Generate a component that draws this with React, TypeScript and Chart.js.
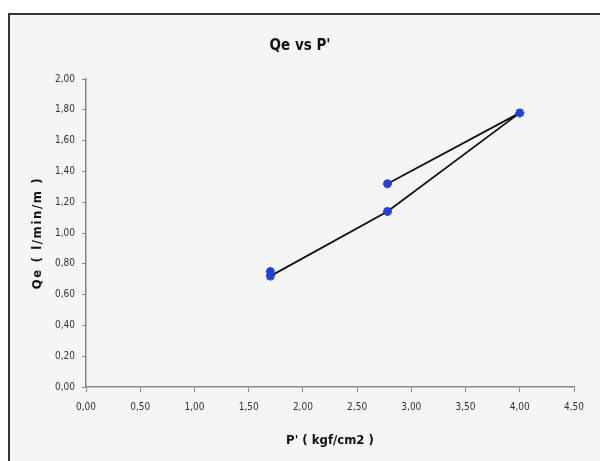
import React, { useEffect, useRef } from "react";
import { Chart, registerables } from "chart.js";

Chart.register(...registerables);

const pressureP = [1.7, 1.7, 2.78, 4.0, 2.78];
const flowQe = [0.75, 0.72, 1.14, 1.78, 1.32];
const xTicks = [0, 0.5, 1, 1.5, 2, 2.5, 3, 3.5, 4, 4.5];
const yTicks = [0, 0.2, 0.4, 0.6, 0.8, 1.0, 1.2, 1.4, 1.6, 1.8, 2.0];
const chartTitle = "Qe vs P'";
const xTitle = "P' ( kgf/cm2 )";
const yTitle = "Qe ( l/min/m )";

const FONT = "'DejaVu Sans Condensed', 'Liberation Sans Narrow', 'Open Sans', sans-serif";

const titlePlugin = {
  id: "manualTitle",
  afterDraw(chart: any) {
    const ctx = chart.ctx;
    ctx.save();
    ctx.font = `bold 15px ${FONT}`;
    ctx.fillStyle = "#111";
    ctx.textAlign = "center";
    ctx.textBaseline = "middle";
    ctx.fillText(chartTitle, 300, 46);
    ctx.restore();
    const y = chart.scales.y;
    ctx.save();
    ctx.translate(38, (y.top + y.bottom) / 2 + 79 - 79 + 0);
    ctx.rotate(-Math.PI / 2);
    ctx.font = `bold 13px ${FONT}`;
    try {
      (ctx as any).letterSpacing = "1.6px";
    } catch (e) {}
    ctx.fillStyle = "#111";
    ctx.textAlign = "center";
    ctx.textBaseline = "middle";
    ctx.fillText(yTitle, 0, 0);
    ctx.restore();
  },
};

export default function App() {
  const ref = useRef<HTMLCanvasElement | null>(null);

  useEffect(() => {
    if (!ref.current) return;
    const fmt = (v: any) => Number(v).toFixed(2).replace(".", ",");
    const chart = new Chart(ref.current, {
      type: "scatter",
      data: {
        datasets: [
          {
            data: pressureP.map((x, i) => ({ x, y: flowQe[i] })),
            showLine: true,
            borderColor: "#111",
            borderWidth: 1.8,
            pointStyle: "star",
            pointRadius: 4.5,
            pointBorderColor: "#1f3fd6",
            pointBackgroundColor: "#1f3fd6",
            pointBorderWidth: 2.5,
          },
        ],
      },
      options: {
        animation: false,
        responsive: false,
        devicePixelRatio: 1,
        layout: { padding: { top: 79, right: 26, bottom: 13, left: 38 } },
        plugins: { legend: { display: false }, tooltip: { enabled: false }, title: { display: false } },
        scales: {
          x: {
            type: "linear",
            min: 0,
            max: 4.5,
            afterBuildTicks: (s: any) => {
              s.ticks = xTicks.map((v) => ({ value: v }));
            },
            afterFit: (s: any) => {
              s.height = 61;
            },
            grid: { drawOnChartArea: false, drawTicks: true, tickLength: 5, color: "#888" },
            border: { color: "#888", width: 1.5 },
            ticks: { callback: fmt, font: { family: FONT, size: 10 }, color: "#333", padding: 9, maxRotation: 0 },
            title: { display: true, text: xTitle, font: { family: FONT, size: 13, weight: "bold" }, color: "#111", padding: { top: 0, bottom: 0 } },
          },
          y: {
            type: "linear",
            min: 0,
            max: 2,
            afterBuildTicks: (s: any) => {
              s.ticks = yTicks.map((v) => ({ value: v }));
            },
            afterFit: (s: any) => {
              s.width = 48;
            },
            grid: { drawOnChartArea: false, drawTicks: true, tickLength: 4, color: "#888" },
            border: { color: "#888", width: 1.5 },
            ticks: { callback: fmt, font: { family: FONT, size: 10 }, color: "#333", padding: 7 },
            title: { display: false },
          },
        },
      },
      plugins: [titlePlugin],
    } as any);
    return () => chart.destroy();
  }, []);

  return (
    <div style={{ position: "fixed", left: 0, top: 0, width: 600, height: 461, background: "#fff", overflow: "hidden" }}>
      <div
        style={{
          position: "absolute",
          left: 8,
          top: 13,
          width: 620,
          height: 470,
          background: "#f5f5f5",
          borderLeft: "2px solid #333",
          borderTop: "2px solid #333",
        }}
      />
      <canvas ref={ref} width={600} height={461} style={{ position: "absolute", left: 0, top: 0, width: 600, height: 461 }} />
    </div>
  );
}
